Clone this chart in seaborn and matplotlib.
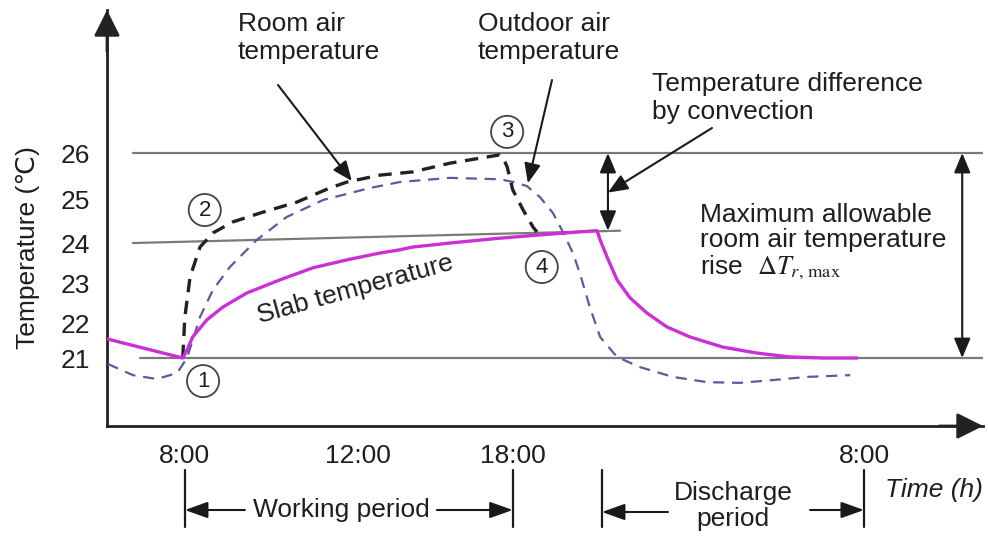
import numpy as np
import pandas as pd
import matplotlib
matplotlib.use("Agg")
import matplotlib.pyplot as plt
import seaborn as sns

# ---------------- data (schematic time axis, temperature in deg C) ----------------
tick_pos = [0.0, 4.0, 7.58, 15.70]
tick_labels = ["8:00", "12:00", "18:00", "8:00"]
y_ticks = [21, 22, 23, 24, 25, 26]

slab_x = [-1.78, -0.05, 0.05, 0.18, 0.51, 0.88, 1.43, 2.20, 2.96, 3.75, 4.51, 4.97, 5.27,
          6.13, 7.28, 8.40, 9.36, 9.53, 9.60, 9.76, 9.99, 10.29, 10.68, 11.14, 11.68,
          12.44, 13.23, 13.99, 14.75, 15.54]
slab_y = [21.54, 21.0, 21.23, 21.6, 22.08, 22.4, 22.75, 23.08, 23.38, 23.58, 23.75, 23.83, 23.9,
          24.0, 24.11, 24.2, 24.27, 24.28, 24.07, 23.65, 23.08, 22.63, 22.25, 21.89, 21.6,
          21.31, 21.14, 21.03, 21.0, 21.0]

room_x = [-0.05, 0.0, 0.12, 0.35, 0.65, 1.11, 1.80, 2.59, 3.35, 3.75, 4.51, 5.27, 6.13,
          7.28, 7.35, 7.45, 7.58, 7.82, 8.05, 8.14]
room_y = [21.0, 22.15, 23.15, 23.9, 24.23, 24.48, 24.7, 24.93, 25.24, 25.37, 25.52, 25.59, 25.78,
          25.96, 25.91, 25.7, 25.2, 24.75, 24.36, 24.25]

out_x = [-1.78, -1.20, -0.65, -0.18, 0.05, 0.35, 0.65, 1.04, 1.66, 2.35, 3.20, 4.28, 4.97,
         6.13, 7.28, 7.60, 7.91, 8.21, 8.51, 8.74, 8.97, 9.13, 9.36, 9.60, 9.99, 10.52,
         11.28, 12.07, 12.83, 13.60, 14.38, 15.38]
out_y = [20.83, 20.51, 20.40, 20.57, 21.0, 22.15, 22.83, 23.4, 24.07, 24.59, 24.98, 25.24, 25.37,
         25.46, 25.43, 25.37, 25.28, 25.04, 24.68, 24.25, 23.75, 23.25, 22.4, 21.6, 21.03, 20.74,
         20.46, 20.31, 20.29, 20.37, 20.46, 20.51]

working_period = (0.0, 7.58)
discharge_period = (9.64, 15.70)
state_labels = ["1", "2", "3", "4"]
state_x = [0.42, 0.46, 7.45, 8.25]
state_y = [20.34, 24.75, 26.46, 23.40]

# ---------------- style ----------------
sns.set_theme(style="white")
plt.rcParams["font.family"] = ["Liberation Sans", "DejaVu Sans"]
plt.rcParams["mathtext.fontset"] = "stix"
TXT = "#1e1e1e"
FS = 19

W, H = 988, 538
fig = plt.figure(figsize=(W / 100, H / 100), dpi=100)
ax = fig.add_axes([107 / W, 1 - 426 / H, 876 / W, 416 / H])

# schematic (slightly non-uniform) temperature scale, as in the drawing
knot_v = np.array([17, 21, 22, 23, 24, 25, 26, 31], float)
knot_p = np.array([498, 358, 323, 283, 243, 199, 153, -77], float)
ax.set_yscale("function",
              functions=(lambda v: -np.interp(v, knot_v, knot_p),
                         lambda u: np.interp(u, -knot_p, knot_v)))
ax.set_xlim(-1.80, 18.45)
ax.set_ylim(19.057, 29.11)

# reference lines
GRAY = "#7a7a7a"
ax.axhline(26, xmin=0.03, xmax=1.0, color=GRAY, lw=1.6, zorder=1)
ax.axhline(21, xmin=0.038, xmax=1.0, color=GRAY, lw=1.6, zorder=1)
peak_val = max(slab_y)
dbl_x = 9.78
ax.plot([-1.20, dbl_x + 0.28], [24, peak_val], color=GRAY, lw=1.6, zorder=1)

# curves
df_slab = pd.DataFrame({"t": slab_x, "T": slab_y})
df_room = pd.DataFrame({"t": room_x, "T": room_y})
df_out = pd.DataFrame({"t": out_x, "T": out_y})
sns.lineplot(data=df_out, x="t", y="T", ax=ax, sort=False, estimator=None,
             color="#5a5a9e", lw=1.6, ls=(0, (5, 3.5)), zorder=3)
sns.lineplot(data=df_room, x="t", y="T", ax=ax, sort=False, estimator=None,
             color="#222222", lw=2.4, ls=(0, (4, 2.6)), zorder=4)
sns.lineplot(data=df_slab, x="t", y="T", ax=ax, sort=False, estimator=None,
             color="#cc2fd6", lw=2.4, zorder=5)

# axes cosmetics
for s in ["top", "right"]:
    ax.spines[s].set_visible(False)
for s in ["left", "bottom"]:
    ax.spines[s].set_color("#222222")
    ax.spines[s].set_linewidth(2.0)
ax.set_xticks(tick_pos)
ax.set_xticklabels(tick_labels)
ax.set_yticks(y_ticks)
ax.set_yticklabels([str(v) for v in y_ticks])
ax.tick_params(axis="both", direction="in", length=10, width=1.6, color="#222222",
               labelsize=FS, labelcolor=TXT)
ax.tick_params(axis="y", pad=12)
ax.tick_params(axis="x", pad=13)
ax.set_xlabel("")
ax.set_ylabel("")
ax.grid(False)

# axis arrows
head = "-|>,head_length=0.8,head_width=0.4"
ax.annotate("", xy=(0, 1), xytext=(0, 0.9), xycoords="axes fraction",
            arrowprops=dict(arrowstyle=head, color="#222222", lw=2, mutation_scale=20,
                            shrinkA=0, shrinkB=0), annotation_clip=False)
ax.annotate("", xy=(1, 0), xytext=(0.95, 0), xycoords="axes fraction",
            arrowprops=dict(arrowstyle=head, color="#222222", lw=2, mutation_scale=20,
                            shrinkA=0, shrinkB=0), annotation_clip=False)


def ftxt(x, y, s, **kw):
    kw.setdefault("fontsize", FS)
    kw.setdefault("color", TXT)
    return fig.text(x / W, 1 - y / H, s, **kw)


def fpx(x, y):
    return (x, H - y)


arr = "-|>,head_length=0.6,head_width=0.25"
aprops = dict(arrowstyle=arr, color="#1a1a1a", lw=1.5, mutation_scale=20, shrinkA=0, shrinkB=0)

# labels with pointer arrows
ftxt(238, 12, "Room air\ntemperature", ha="left", va="top")
tip = 3.86
ax.annotate("", xy=(tip, np.interp(tip, room_x, room_y)), xytext=fpx(278, 85),
            textcoords="figure pixels", arrowprops=aprops, annotation_clip=False)

ftxt(478, 12, "Outdoor air\ntemperature", ha="left", va="top")
tip = 7.93
ax.annotate("", xy=(tip, np.interp(tip, out_x, out_y) + 0.08), xytext=fpx(552, 80),
            textcoords="figure pixels", arrowprops=aprops, annotation_clip=False)

ftxt(652, 72, "Temperature difference\nby convection", ha="left", va="top")
ax.annotate("", xy=(dbl_x, (26 + peak_val) / 2), xytext=fpx(712, 128),
            textcoords="figure pixels", arrowprops=aprops, annotation_clip=False)

# double arrows
dprops = dict(arrowstyle="<|-|>,head_length=0.6,head_width=0.25", color="#1a1a1a", lw=1.5,
              mutation_scale=20, shrinkA=0, shrinkB=0)
ax.annotate("", xy=(dbl_x, 26), xytext=(dbl_x, peak_val), arrowprops=dprops)
ax.annotate("", xy=(17.97, 26), xytext=(17.97, 21), arrowprops=dprops)

ftxt(700, 203, "Maximum allowable\nroom air temperature\nrise  $\\Delta T_{r,\\,\\mathrm{max}}$",
     ha="left", va="top", linespacing=1.05)

ax.text(3.95, 22.83, "Slab temperature", rotation=15.5, rotation_mode="anchor",
        ha="center", va="center", fontsize=FS, color=TXT)

# state markers
for lab, sx, sy in zip(state_labels, state_x, state_y):
    ax.text(sx, sy, lab, ha="center", va="center", fontsize=16, color=TXT, zorder=6,
            bbox=dict(boxstyle="circle,pad=0.25", fc="white", ec="#444444", lw=1.3))

# periods below the axis
xt = ax.get_xaxis_transform()


def yf(py):
    return (426 - py) / 416


for x0, x1 in [working_period, discharge_period]:
    for xx in (x0, x1):
        ax.plot([xx, xx], [yf(470), yf(527)], transform=xt, color="#1a1a1a", lw=1.6,
                clip_on=False)

pprops = dict(arrowstyle="-|>,head_length=0.7,head_width=0.25", color="#1a1a1a", lw=1.5,
              mutation_scale=20, shrinkA=0, shrinkB=0)
wl = (245 - 185) / 43.25
wr = (437 - 185) / 43.25
ax.annotate("", xy=(working_period[0], yf(510)), xytext=(wl, yf(510)), xycoords=xt,
            arrowprops=pprops, annotation_clip=False)
ax.annotate("", xy=(working_period[1], yf(510)), xytext=(wr, yf(510)), xycoords=xt,
            arrowprops=pprops, annotation_clip=False)
ftxt(341, 510, "Working period", ha="center", va="center")

dl = (668 - 185) / 43.25
dr = (810 - 185) / 43.25
ax.annotate("", xy=(discharge_period[0], yf(512)), xytext=(dl, yf(512)), xycoords=xt,
            arrowprops=pprops, annotation_clip=False)
ax.annotate("", xy=(discharge_period[1], yf(510)), xytext=(dr, yf(510)), xycoords=xt,
            arrowprops=pprops, annotation_clip=False)
ftxt(733, 506, "Discharge\nperiod", ha="center", va="center", linespacing=1.1)

ftxt(885, 490, "Time (h)", ha="left", va="center", style="italic")
ftxt(28, 248, "Temperature (\u2103)", ha="center", va="center", rotation=90)

fig.savefig("out.png", dpi=100, facecolor="white")
